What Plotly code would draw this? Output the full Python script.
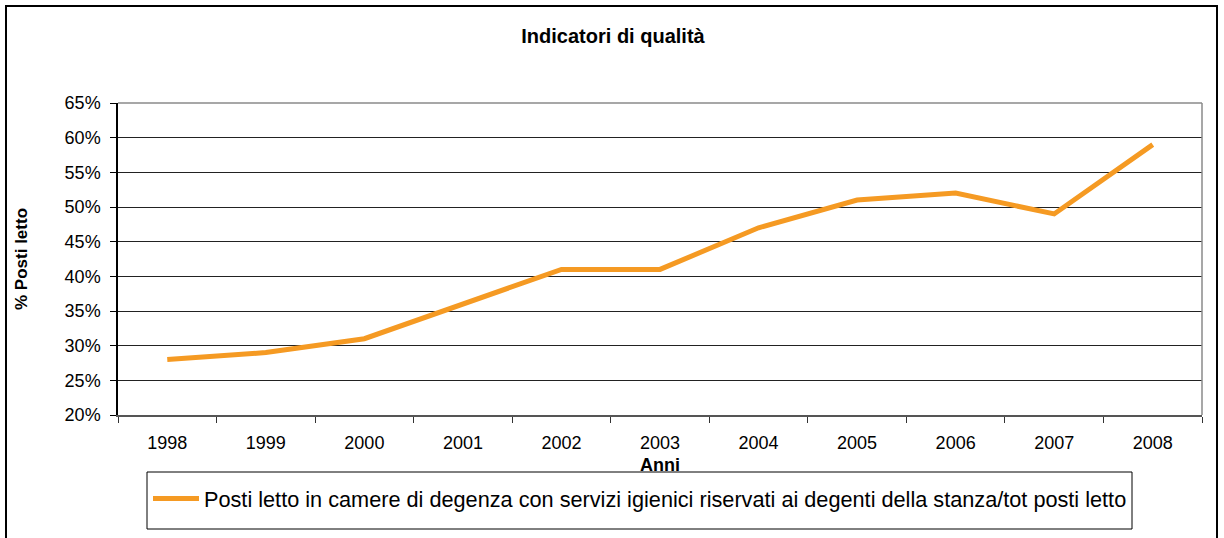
import plotly.graph_objects as go

years = ["1998", "1999", "2000", "2001", "2002", "2003", "2004", "2005", "2006", "2007", "2008"]
values = [0.28, 0.29, 0.31, 0.36, 0.41, 0.41, 0.47, 0.51, 0.52, 0.49, 0.59]
series_name = "Posti letto in camere di degenza con servizi igienici riservati ai degenti della stanza/tot posti letto"
y_ticks = [0.20, 0.25, 0.30, 0.35, 0.40, 0.45, 0.50, 0.55, 0.60, 0.65]

FONT = "Liberation Sans, Arial, sans-serif"
W, H = 1224, 538
L, R, T, B = 118, 22, 103, 123
PW, PH = W - L - R, H - T - B


def px(x):
    return (x - L) / PW


def py(y):
    return (H - B - y) / PH


fig = go.Figure()
fig.add_trace(go.Scatter(
    x=years, y=values, mode="lines", name=series_name,
    line=dict(color="#F59A23", width=5),
))

fig.update_layout(
    width=W, height=H,
    margin=dict(l=L, r=R, t=T, b=B),
    paper_bgcolor="white", plot_bgcolor="white",
    font=dict(family=FONT, size=18, color="black"),
    title=dict(text="<b>Indicatori di qualità</b>", x=613 / W, xanchor="center",
               y=1 - 36 / H, yanchor="middle", font=dict(size=20)),
    showlegend=True,
    legend=dict(orientation="h", x=px(640), xanchor="center", y=py(499), yanchor="middle",
                bgcolor="rgba(0,0,0,0)", borderwidth=0, font=dict(size=21.7),
                itemwidth=46),
    shapes=[
        dict(type="rect", xref="paper", yref="paper", x0=px(6), x1=px(1217),
             y0=py(548), y1=py(6), line=dict(color="black", width=2), layer="below"),
        dict(type="rect", xref="paper", yref="paper", x0=px(147), x1=px(1132),
             y0=py(529), y1=py(472), line=dict(color="black", width=1), layer="below"),
    ],
)

fig.update_xaxes(
    type="category", range=[-0.5, 10.5],
    showgrid=False, showline=True, linecolor="#555555", linewidth=1.5, mirror=False,
    ticks="outside", ticklen=6, tickcolor="#333333", tickson="boundaries",
    tickfont=dict(size=18), ticklabelstandoff=11,
    title=dict(text="<b>Anni</b>", font=dict(size=18), standoff=6),
)
fig.update_yaxes(
    range=[0.20, 0.65], tickvals=y_ticks, tickformat=".0%",
    showgrid=True, gridcolor="#222222", gridwidth=1,
    showline=True, linecolor="black", linewidth=1.5, mirror=False,
    ticks="outside", ticklen=6, tickcolor="black", ticklabelstandoff=6,
    tickfont=dict(size=18), zeroline=False,
    title=dict(text="<b>% Posti letto</b>", font=dict(size=17), standoff=33),
)

# plot-area frame (top and right edges in grey)
fig.add_shape(type="line", xref="paper", yref="paper", x0=0, x1=1, y0=1, y1=1,
              line=dict(color="#8a8a8a", width=1.5))
fig.add_shape(type="line", xref="paper", yref="paper", x0=1, x1=1, y0=0, y1=1,
              line=dict(color="#8a8a8a", width=1.5))

fig.write_html("out.html", config={"displayModeBar": False},
               post_script="document.body.style.margin='0';")
